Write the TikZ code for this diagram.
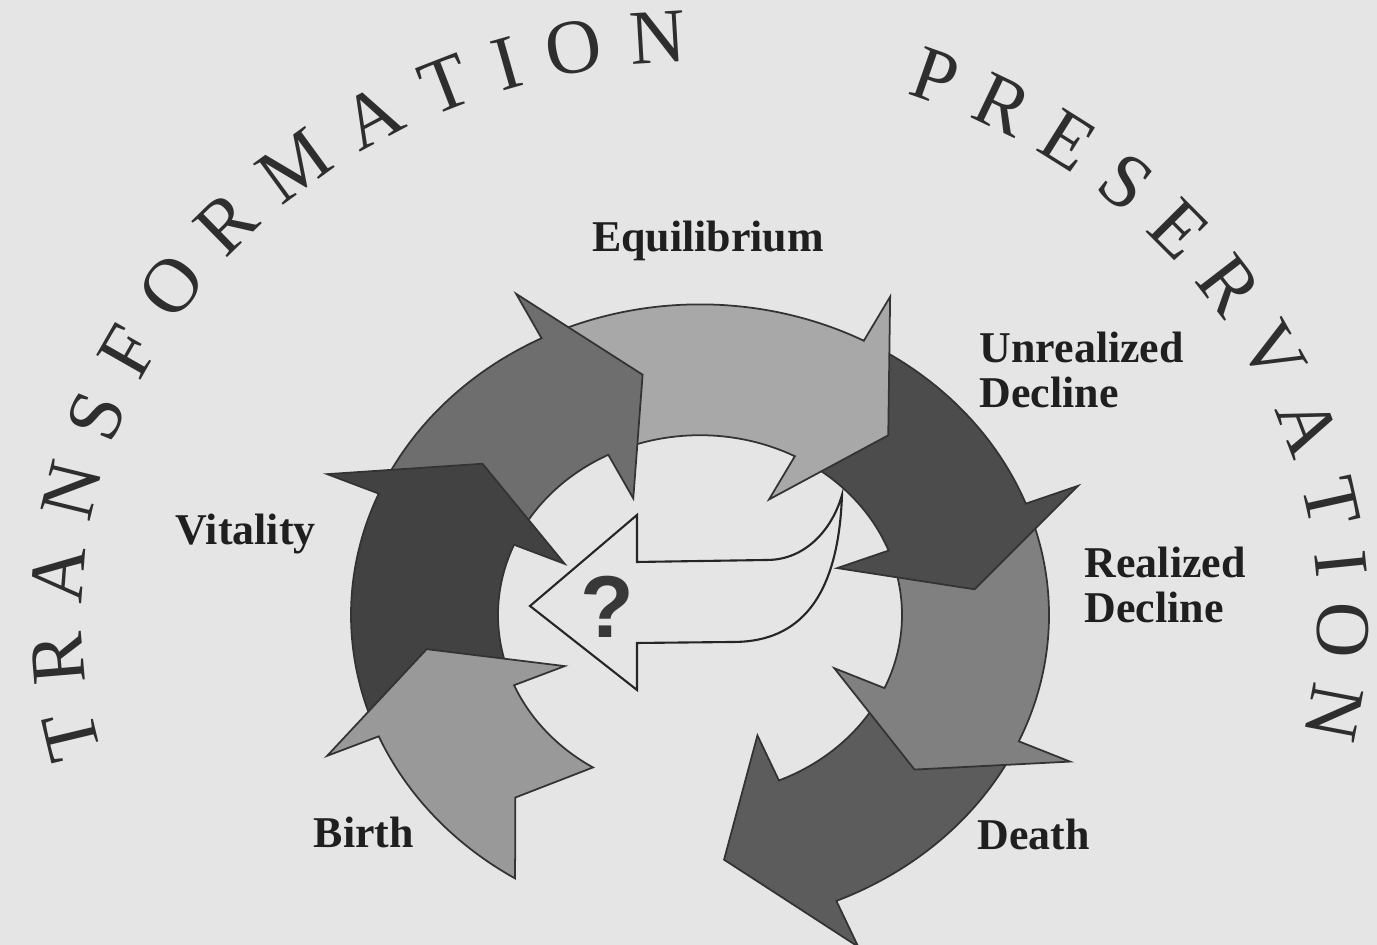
\documentclass[tikz,border=0pt]{standalone}
\usepackage{fontspec}
\setmainfont{Liberation Serif}
\newfontfamily\qmarkfont{Liberation Sans}
\usetikzlibrary{decorations.text,calc}

\definecolor{paper}{gray}{0.90}
\definecolor{birthgray}{gray}{0.60}
\definecolor{vitalgray}{gray}{0.26}
\definecolor{growgray}{gray}{0.43}
\definecolor{equigray}{gray}{0.66}
\definecolor{unrealgray}{gray}{0.30}
\definecolor{realgray}{gray}{0.50}
\definecolor{deathgray}{gray}{0.36}

\newcommand{\ringout}{3.49}
\newcommand{\ringin}{2.02}
\newcommand{\ringmid}{2.76}
\newcommand{\barbout}{4.05}
\newcommand{\barbin}{1.47}
\newcommand{\curvefont}{\fontsize{22}{22}\selectfont\color{black!82}}

% one curved chevron arrow: [tip offset]{fill}{tail angle}{head angle}
\newcommand{\cyclearrow}[4][15]{%
  \filldraw[cycarrow, fill=#2] (#3:\ringout) arc[start angle=#3, end angle=#4, radius=\ringout]
    -- (#4:\barbout) -- ({#4-#1}:\ringmid) -- (#4:\barbin) -- (#4:\ringin)
    arc[start angle=#4, end angle=#3, radius=\ringin] -- ({#3-10}:\ringmid) -- cycle;
}

\tikzset{
cycarrow/.style = {draw=black!80, line width=0.5pt, line join=miter},
qarrow/.style = {draw=black!85, fill=paper, line width=0.6pt},
lbl/.style = {inner sep=0pt, align=left, text=black!88, font=\fontsize{12.5}{12.9}\selectfont\bfseries},
qmark/.style = {inner sep=0pt, text=black!78, font=\qmarkfont\fontsize{25}{25}\selectfont\bfseries}
}

\begin{document}
\begin{tikzpicture}
    \useasboundingbox (0,0) rectangle (13.77,9.45);
    \fill[paper] (0,0) rectangle (13.77,9.45);
    \coordinate (ctr) at (7,3.30);

    % the cycle, drawn last to first so each head lies on the next tail
    \begin{scope}[shift={(ctr)}, yscale=0.89]
        \cyclearrow[18]{deathgray}{-26}{-67}
        \cyclearrow{realgray}{19}{-24}
        \cyclearrow{unrealgray}{60}{21}
        \cyclearrow{equigray}{115}{62}
        \cyclearrow{growgray}{155}{117}
        \cyclearrow{vitalgray}{201}{157}
        \cyclearrow{birthgray}{238}{203}
    \end{scope}

    % hollow arrow in the middle
    \filldraw[qarrow] (5.30,3.39) -- (6.37,4.30) -- (6.37,3.83) -- (7.67,3.85)
        .. controls (8.05,3.85) and (8.32,4.15) .. (8.42,4.50)
        .. controls (8.38,3.35) and (7.90,3.03) .. (7.33,3.03)
        -- (6.37,3.02) -- (6.37,2.55) -- cycle;
    \node[qmark] (q) at (6.07,3.38) {?};

    % words on the big arc
    \begin{scope}[shift={(ctr)}]
        \path[decorate, decoration={text along path, text align={fit to path},
            text={|\curvefont|TRANSFORMATION}}]
            (194.5:6.18 and 5.53) arc[start angle=194.5, end angle=91.2, x radius=6.18, y radius=5.53];
        \path[decorate, decoration={text along path, text align={fit to path},
            text={|\curvefont|PRESERVATION}}]
            (70.5:6.18 and 5.53) arc[start angle=70.5, end angle=-12.5, x radius=6.18, y radius=5.53];
    \end{scope}

    \node[lbl, anchor=base] (equil) at (7.08,6.93) {Equilibrium};
    \node[lbl, anchor=base west] (unreal) at (9.79,5.37) {Unrealized\\Decline};
    \node[lbl, anchor=base west] (vital) at (1.75,4.00) {Vitality};
    \node[lbl, anchor=base west] (real) at (10.84,3.22) {Realized\\Decline};
    \node[lbl, anchor=base west] (birth) at (3.13,0.97) {Birth};
    \node[lbl, anchor=base west] (death) at (9.77,0.95) {Death};
\end{tikzpicture}
\end{document}
